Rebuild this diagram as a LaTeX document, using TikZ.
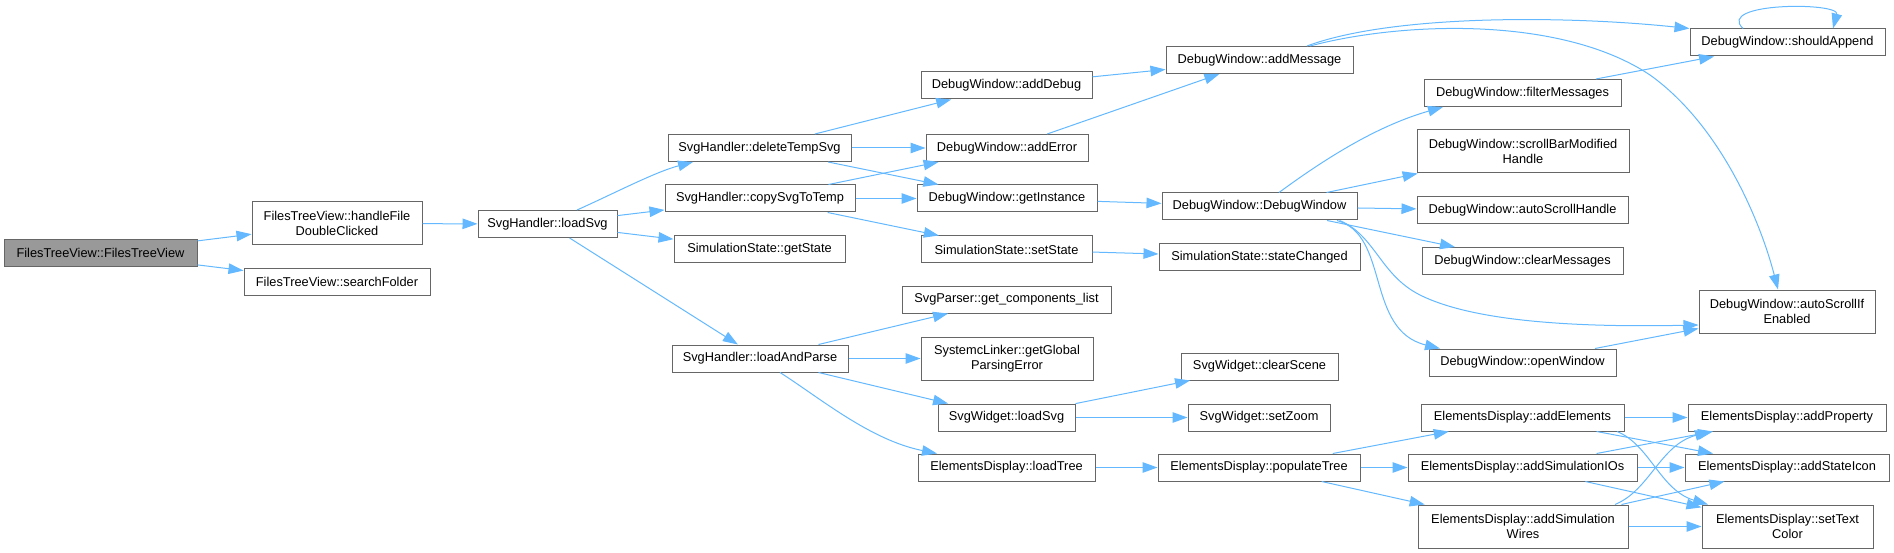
\documentclass[tikz,border=0pt]{standalone}
\usepackage{fontspec}
\setmainfont{Liberation Sans}
\usetikzlibrary{arrows.meta}
\definecolor{edgec}{HTML}{63B8FF}
\definecolor{boxc}{HTML}{666666}
\definecolor{rootc}{HTML}{999999}
\begin{document}
\begin{tikzpicture}[x=1pt,y=-1pt,
  box/.style={draw=boxc, line width=1pt, fill=white, inner sep=0pt, align=center,
    minimum height=27pt, font=\fontsize{12.8}{15}\selectfont},
  tall/.style={minimum height=43pt},
  root/.style={box, fill=rootc},
  edge/.style={draw=edgec, line width=1pt, -{Triangle[length=15pt,width=10.5pt]}}]
\useasboundingbox (0,0) rectangle (1894,553);
% column 1
\node[root, minimum width=193pt] (root) at (100.5,253) {FilesTreeView::FilesTreeView};
% column 2
\node[box, tall, minimum width=170pt] (hf) at (337,223.5) {FilesTreeView::handleFile\\DoubleClicked};
\node[box, minimum width=186pt] (sf) at (337,282) {FilesTreeView::searchFolder};
% column 3
\node[box, minimum width=139pt] (ls) at (547.5,224) {SvgHandler::loadSvg};
% column 4
\node[box, minimum width=183pt] (dts) at (759.5,148) {SvgHandler::deleteTempSvg};
\node[box, minimum width=190pt] (cst) at (760,198.5) {SvgHandler::copySvgToTemp};
\node[box, minimum width=171pt] (gs) at (759.5,249.5) {SimulationState::getState};
\node[box, minimum width=176pt] (lap) at (760,358.5) {SvgHandler::loadAndParse};
% column 5
\node[box, minimum width=171pt] (ad) at (1006.5,85.5) {DebugWindow::addDebug};
\node[box, minimum width=162pt] (ae) at (1007,148) {DebugWindow::addError};
\node[box, minimum width=180pt] (gi) at (1007,198.5) {DebugWindow::getInstance};
\node[box, minimum width=171pt] (ss) at (1006.5,249.5) {SimulationState::setState};
\node[box, minimum width=209pt] (gcl) at (1006.5,299.5) {SvgParser::get\_components\_list};
\node[box, tall, minimum width=172pt] (gpe) at (1007,358.5) {SystemcLinker::getGlobal\\ParsingError};
\node[box, minimum width=137pt] (swl) at (1006.5,417.5) {SvgWidget::loadSvg};
\node[box, minimum width=177pt] (lt) at (1006.5,467.5) {ElementsDisplay::loadTree};
% column 6
\node[box, minimum width=187pt] (am) at (1259.5,60) {DebugWindow::addMessage};
\node[box, minimum width=195pt] (dw) at (1259.5,206.5) {DebugWindow::DebugWindow};
\node[box, minimum width=201pt] (sc) at (1259.5,257) {SimulationState::stateChanged};
\node[box, minimum width=157pt] (cs) at (1259.5,366.5) {SvgWidget::clearScene};
\node[box, minimum width=142pt] (sz) at (1259,417.5) {SvgWidget::setZoom};
\node[box, minimum width=202pt] (pt) at (1259,467.5) {ElementsDisplay::populateTree};
% column 7
\node[box, minimum width=197pt] (fm) at (1522.5,93) {DebugWindow::filterMessages};
\node[box, tall, minimum width=212pt] (sb) at (1523,151.5) {DebugWindow::scrollBarModified\\Handle};
\node[box, minimum width=211pt] (ash) at (1522.5,210.5) {DebugWindow::autoScrollHandle};
\node[box, minimum width=201pt] (cm) at (1522.5,261) {DebugWindow::clearMessages};
\node[box, minimum width=187pt] (ow) at (1522.5,362.5) {DebugWindow::openWindow};
\node[box, minimum width=203pt] (ael) at (1522.5,417.5) {ElementsDisplay::addElements};
\node[box, minimum width=229pt] (asio) at (1522.5,467.5) {ElementsDisplay::addSimulationIOs};
\node[box, tall, minimum width=210pt] (asw) at (1523,526.5) {ElementsDisplay::addSimulation\\Wires};
% column 8
\node[box, minimum width=195pt] (sa) at (1787.5,42.5) {DebugWindow::shouldAppend};
\node[box, tall, minimum width=176pt] (asie) at (1787,311.5) {DebugWindow::autoScrollIf\\Enabled};
\node[box, minimum width=198pt] (ap) at (1787,417.5) {ElementsDisplay::addProperty};
\node[box, minimum width=204pt] (asi) at (1787,467.5) {ElementsDisplay::addStateIcon};
\node[box, tall, minimum width=171pt] (stc) at (1787.5,526.5) {ElementsDisplay::setText\\Color};
% edges
\draw[edge] (root) -- (hf);
\draw[edge] (root) -- (sf);
\draw[edge] (hf) -- (ls);
\draw[edge] ([xshift=29.5pt]ls.north) .. controls (615,193) and (655,172) .. ([xshift=-66.5pt]dts.south);
\draw[edge] (ls) -- (cst);
\draw[edge] (ls) -- (gs);
\draw[edge] (ls) -- (lap);
\draw[edge] (dts) -- (ad);
\draw[edge] (dts) -- (ae);
\draw[edge] (dts) -- (gi);
\draw[edge] (cst) -- (ae);
\draw[edge] (cst) -- (gi);
\draw[edge] (cst) -- (ss);
\draw[edge] (ad) -- (am);
\draw[edge] (ae) -- (am);
\draw[edge] (gi) -- (dw);
\draw[edge] (ss) -- (sc);
\draw[edge] ([xshift=47.5pt]am.north) .. controls (1390,15) and (1560,15) .. (sa.north west);
\draw[edge] ([xshift=50.5pt]am.north) .. controls (1400,22) and (1560,15) .. (1650,75) .. controls (1720,125) and (1760,220) .. ([xshift=-9pt]asie.north);
\draw[edge] ([xshift=-44.5pt]sa.north) .. controls (1715,2) and (1840,2) .. ([xshift=45.5pt]sa.north);
\draw[edge] ([xshift=19.5pt]dw.north) .. controls (1330,155) and (1380,125) .. ([xshift=-79.5pt]fm.south);
\draw[edge] (dw) -- (sb);
\draw[edge] (dw) -- (ash);
\draw[edge] (dw) -- (cm);
\draw[edge] ([xshift=77.5pt]dw.south) .. controls (1390,235) and (1365,330) .. ([xshift=-82.5pt]ow.north);
\draw[edge] ([xshift=80pt]dw.south) .. controls (1375,235) and (1380,275) .. (1420,295) .. controls (1480,325) and (1600,327) .. ([yshift=-13.5pt]asie.west);
\draw[edge] (fm) -- (sa);
\draw[edge] (ow) -- (asie);
\draw[edge] (lap) -- (gcl);
\draw[edge] (lap) -- (gpe);
\draw[edge] (lap) -- (swl);
\draw[edge] ([xshift=20pt]lap.south) .. controls (820,398) and (870,440) .. ([xshift=-69.5pt]lt.north);
\draw[edge] (swl) -- (cs);
\draw[edge] (swl) -- (sz);
\draw[edge] (lt) -- (pt);
\draw[edge] (pt) -- (ael);
\draw[edge] (pt) -- (asio);
\draw[edge] (pt) -- (asw);
\draw[edge] (ael) -- (ap);
\draw[edge] (ael) -- (asi);
\draw[edge] ([xshift=94.5pt]ael.south) .. controls (1650,445) and (1660,490) .. ([xshift=-79.5pt]stc.north);
\draw[edge] (asio) -- (ap);
\draw[edge] (asio) -- (asi);
\draw[edge] (asio) -- (stc);
\draw[edge] ([xshift=92pt]asw.north) .. controls (1650,490) and (1660,445) .. ([xshift=-77pt]ap.south);
\draw[edge] (asw) -- (asi);
\draw[edge] (asw) -- (stc);
\end{tikzpicture}
\end{document}
